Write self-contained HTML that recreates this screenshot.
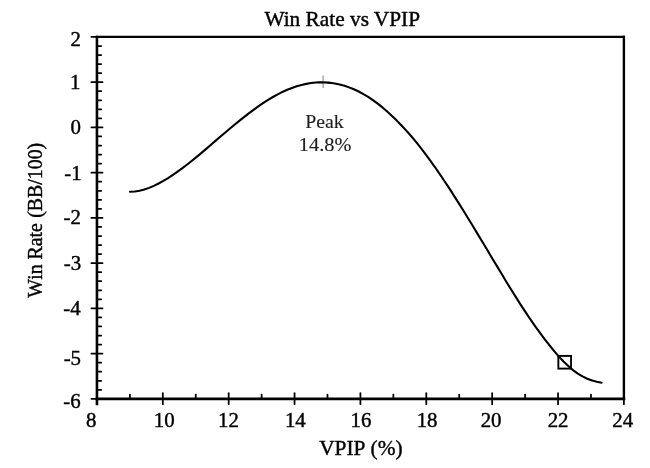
<!DOCTYPE html>
<html lang="en"><head><meta charset="utf-8"><title>Win Rate vs VPIP</title><style>
html,body{margin:0;padding:0;background:#fff;overflow:hidden}
svg{display:block}
text{font-family:"Liberation Serif","Times New Roman",serif;fill:#000;stroke:#000;stroke-width:0.4;stroke-linejoin:round}
</style></head><body>
<svg width="650" height="468" viewBox="0 0 650 468">
<rect width="650" height="468" fill="#fff"/>
<g stroke="#000" stroke-width="1.75" fill="none" stroke-linecap="round">
<line x1="91.4" y1="36.95" x2="102.5" y2="36.95"/>
<line x1="97.0" y1="46.00" x2="101.2" y2="46.00"/>
<line x1="97.0" y1="55.05" x2="101.2" y2="55.05"/>
<line x1="97.0" y1="64.09" x2="101.2" y2="64.09"/>
<line x1="97.0" y1="73.14" x2="101.2" y2="73.14"/>
<line x1="91.4" y1="82.19" x2="102.5" y2="82.19"/>
<line x1="97.0" y1="91.24" x2="101.2" y2="91.24"/>
<line x1="97.0" y1="100.28" x2="101.2" y2="100.28"/>
<line x1="97.0" y1="109.33" x2="101.2" y2="109.33"/>
<line x1="97.0" y1="118.38" x2="101.2" y2="118.38"/>
<line x1="91.4" y1="127.43" x2="102.5" y2="127.43"/>
<line x1="97.0" y1="136.47" x2="101.2" y2="136.47"/>
<line x1="97.0" y1="145.52" x2="101.2" y2="145.52"/>
<line x1="97.0" y1="154.57" x2="101.2" y2="154.57"/>
<line x1="97.0" y1="163.62" x2="101.2" y2="163.62"/>
<line x1="91.4" y1="172.66" x2="102.5" y2="172.66"/>
<line x1="97.0" y1="181.71" x2="101.2" y2="181.71"/>
<line x1="97.0" y1="190.76" x2="101.2" y2="190.76"/>
<line x1="97.0" y1="199.81" x2="101.2" y2="199.81"/>
<line x1="97.0" y1="208.85" x2="101.2" y2="208.85"/>
<line x1="91.4" y1="217.90" x2="102.5" y2="217.90"/>
<line x1="97.0" y1="226.95" x2="101.2" y2="226.95"/>
<line x1="97.0" y1="236.00" x2="101.2" y2="236.00"/>
<line x1="97.0" y1="245.04" x2="101.2" y2="245.04"/>
<line x1="97.0" y1="254.09" x2="101.2" y2="254.09"/>
<line x1="91.4" y1="263.14" x2="102.5" y2="263.14"/>
<line x1="97.0" y1="272.19" x2="101.2" y2="272.19"/>
<line x1="97.0" y1="281.23" x2="101.2" y2="281.23"/>
<line x1="97.0" y1="290.28" x2="101.2" y2="290.28"/>
<line x1="97.0" y1="299.33" x2="101.2" y2="299.33"/>
<line x1="91.4" y1="308.38" x2="102.5" y2="308.38"/>
<line x1="97.0" y1="317.42" x2="101.2" y2="317.42"/>
<line x1="97.0" y1="326.47" x2="101.2" y2="326.47"/>
<line x1="97.0" y1="335.52" x2="101.2" y2="335.52"/>
<line x1="97.0" y1="344.56" x2="101.2" y2="344.56"/>
<line x1="91.4" y1="353.61" x2="102.5" y2="353.61"/>
<line x1="97.0" y1="362.66" x2="101.2" y2="362.66"/>
<line x1="97.0" y1="371.71" x2="101.2" y2="371.71"/>
<line x1="97.0" y1="380.75" x2="101.2" y2="380.75"/>
<line x1="97.0" y1="389.80" x2="101.2" y2="389.80"/>
<line x1="91.4" y1="398.85" x2="102.5" y2="398.85"/>
<line x1="96.95" y1="393.2" x2="96.95" y2="404.2"/>
<line x1="129.88" y1="394.5" x2="129.88" y2="398.9"/>
<line x1="162.82" y1="393.2" x2="162.82" y2="404.2"/>
<line x1="195.75" y1="394.5" x2="195.75" y2="398.9"/>
<line x1="228.69" y1="393.2" x2="228.69" y2="404.2"/>
<line x1="261.62" y1="394.5" x2="261.62" y2="398.9"/>
<line x1="294.56" y1="393.2" x2="294.56" y2="404.2"/>
<line x1="327.49" y1="394.5" x2="327.49" y2="398.9"/>
<line x1="360.42" y1="393.2" x2="360.42" y2="404.2"/>
<line x1="393.36" y1="394.5" x2="393.36" y2="398.9"/>
<line x1="426.29" y1="393.2" x2="426.29" y2="404.2"/>
<line x1="459.23" y1="394.5" x2="459.23" y2="398.9"/>
<line x1="492.16" y1="393.2" x2="492.16" y2="404.2"/>
<line x1="525.10" y1="394.5" x2="525.10" y2="398.9"/>
<line x1="558.03" y1="393.2" x2="558.03" y2="404.2"/>
<line x1="590.97" y1="394.5" x2="590.97" y2="398.9"/>
<line x1="623.90" y1="393.2" x2="623.90" y2="404.2"/>
</g>
<g stroke="#000" fill="none" stroke-linecap="square">
<line x1="96.95" y1="36.95" x2="96.95" y2="403.85" stroke-width="2.6"/>
<line x1="96.95" y1="398.85" x2="623.9" y2="398.85" stroke-width="2.6"/>
<line x1="96.95" y1="36.95" x2="623.9" y2="36.95" stroke-width="2.2"/>
<line x1="623.9" y1="36.95" x2="623.9" y2="398.85" stroke-width="2.4"/>
</g>
<g stroke="#8c8c8c" stroke-width="1.1" fill="none"><line x1="323.1" y1="75.5" x2="323.1" y2="88"/><line x1="317" y1="82" x2="329.5" y2="82"/></g>
<path d="M130.0,191.71 L134.8,191.57 L139.5,190.82 L144.3,189.57 L149.1,187.88 L153.8,185.85 L158.6,183.52 L163.3,180.91 L168.1,178.04 L172.9,174.95 L177.6,171.64 L182.4,168.16 L187.2,164.51 L191.9,160.73 L196.7,156.84 L201.5,152.87 L206.2,148.83 L211.0,144.75 L215.7,140.65 L220.5,136.56 L225.3,132.50 L230.0,128.47 L234.8,124.50 L239.6,120.61 L244.3,116.81 L249.1,113.12 L253.9,109.57 L258.6,106.16 L263.4,102.91 L268.1,99.85 L272.9,96.99 L277.7,94.35 L282.4,91.94 L287.2,89.79 L292.0,87.90 L296.7,86.28 L301.5,84.93 L306.3,83.86 L311.0,83.08 L315.8,82.57 L320.5,82.36 L325.3,82.45 L330.1,82.83 L334.8,83.51 L339.6,84.49 L344.4,85.78 L349.1,87.38 L353.9,89.29 L358.7,91.51 L363.4,94.05 L368.2,96.91 L372.9,100.10 L377.7,103.60 L382.5,107.43 L387.2,111.55 L392.0,115.95 L396.8,120.61 L401.5,125.52 L406.3,130.64 L411.1,136.03 L415.8,141.70 L420.6,147.66 L425.3,153.88 L430.1,160.34 L434.9,167.02 L439.6,173.90 L444.4,180.97 L449.2,188.20 L453.9,195.58 L458.7,203.10 L463.5,210.73 L468.2,218.46 L473.0,226.27 L477.7,234.14 L482.5,242.06 L487.3,250.00 L492.0,257.95 L496.8,265.90 L501.6,273.82 L506.3,281.68 L511.1,289.44 L515.9,297.09 L520.6,304.57 L525.4,311.87 L530.1,318.96 L534.9,325.82 L539.7,332.45 L544.4,338.83 L549.2,344.96 L554.0,350.81 L558.7,356.33 L563.5,361.44 L568.3,366.07 L573.0,370.11 L577.8,373.55 L582.5,376.41 L587.3,378.72 L592.1,380.52 L596.8,381.82 L601.6,382.66" fill="none" stroke="#000" stroke-width="2.1" stroke-linecap="round" stroke-linejoin="round"/>
<rect x="558.35" y="355.9" width="12.7" height="12.7" fill="none" stroke="#000" stroke-width="1.9"/>
<text transform="translate(264.40,25.95) scale(1.0108,1)" font-size="21.1">Win Rate vs VPIP</text>
<text transform="translate(319.20,455.25) scale(1.0371,1)" font-size="20.6">VPIP<tspan dx="-0.20"> (%)</tspan></text>
<text transform="translate(305.15,127.9) scale(1.0181,1)" font-size="19.5" style="fill:#1c1c1c;stroke:#1c1c1c;stroke-width:0.12">Peak</text>
<text transform="translate(298.87,150.8) scale(1.0441,1)" font-size="19.5" style="fill:#1c1c1c;stroke:#1c1c1c;stroke-width:0.12">14.8%</text>
<g font-size="20.5">
<text transform="translate(86.12,426.8) scale(1.0200,1)" font-size="20.5">8</text>
<text transform="translate(153.75,426.8) scale(1.0200,1)" font-size="20.5">10</text>
<text transform="translate(218.12,426.8) scale(1.0200,1)" font-size="20.5">12</text>
<text transform="translate(284.92,426.8) scale(1.0200,1)" font-size="20.5">14</text>
<text transform="translate(350.49,426.8) scale(1.0200,1)" font-size="20.5">16</text>
<text transform="translate(416.63,426.8) scale(1.0200,1)" font-size="20.5">18</text>
<text transform="translate(480.65,426.8) scale(1.0200,1)" font-size="20.5">20</text>
<text transform="translate(547.66,426.8) scale(1.0200,1)" font-size="20.5">22</text>
<text transform="translate(612.33,426.8) scale(1.0200,1)" font-size="20.5">24</text>
<text transform="translate(70.49,45.7) scale(1.0200,1)" font-size="20.5">2</text>
<text transform="translate(69.95,88.5) scale(1.0200,1)" font-size="20.5">1</text>
<text transform="translate(70.42,133.6) scale(1.0200,1)" font-size="20.5">0</text>
<text transform="translate(64.25,179.75) scale(1.0200,1)" font-size="20.5">-1</text>
<text transform="translate(63.55,224.2) scale(1.0200,1)" font-size="20.5">-2</text>
<text transform="translate(63.74,269.8) scale(1.0200,1)" font-size="20.5">-3</text>
<text transform="translate(63.23,315.4) scale(1.0200,1)" font-size="20.5">-4</text>
<text transform="translate(63.64,365.3) scale(1.0200,1)" font-size="20.5">-5</text>
<text transform="translate(63.33,407.8) scale(1.0200,1)" font-size="20.5">-6</text>
</g>
<text transform="translate(41.9,297.75) rotate(-90) scale(0.9452,1)" font-size="21">Win Rate<tspan dx="0.40"> (BB/100)</tspan></text>
</svg>
</body></html>
